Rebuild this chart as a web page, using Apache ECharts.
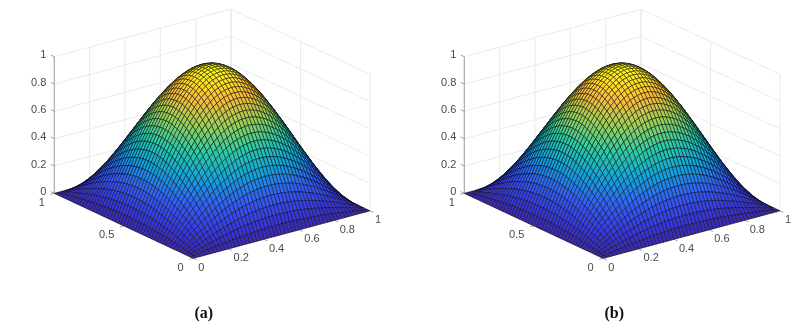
<!DOCTYPE html>
<html>
<head>
<meta charset="utf-8">
<style>html,body{margin:0;padding:0;background:#fff}#main{width:811px;height:332px}</style>
<script src="https://cdn.jsdelivr.net/npm/echarts@6/dist/echarts.min.js"></script>
</head>
<body>
<div id="main"></div>
<script>
// tick labels
var xTicks = [0, 0.2, 0.4, 0.6, 0.8, 1];
var yTicks = [0, 0.5, 1];
var zTicks = [0, 0.2, 0.4, 0.6, 0.8, 1];
var captions = ['(a)', '(b)'];

// surface height, quarter x,y in [0,0.5], 50 cells per side.
// both panels look the same, the other three quarters mirror this one
var heights = [
[0,0,0,0,0,0,0,0,0,0,0,0,0,0,0,0,0,0,0,0,0,0,0,0,0,0],
[0,.004,.008,.012,.016,.019,.023,.027,.030,.034,.037,.040,.043,.046,.048,.051,.053,.055,.057,.058,.060,.061,.062,.062,.063,.063],
[0,.008,.016,.023,.031,.039,.046,.053,.060,.067,.074,.080,.086,.091,.097,.101,.106,.110,.113,.117,.119,.121,.123,.124,.125,.125],
[0,.012,.023,.035,.047,.058,.069,.080,.090,.100,.110,.119,.128,.137,.144,.152,.158,.164,.170,.174,.178,.182,.184,.186,.187,.187],
[0,.016,.031,.047,.062,.077,.092,.106,.120,.133,.146,.159,.170,.181,.192,.201,.210,.218,.225,.231,.237,.241,.244,.247,.248,.249],
[0,.019,.039,.058,.077,.095,.114,.132,.149,.166,.182,.197,.212,.225,.238,.250,.261,.271,.280,.287,.294,.299,.304,.307,.308,.309],
[0,.023,.046,.069,.092,.114,.135,.157,.177,.197,.216,.235,.252,.268,.284,.298,.311,.323,.333,.342,.350,.357,.362,.365,.367,.368],
[0,.027,.053,.080,.106,.132,.157,.181,.205,.228,.250,.271,.291,.310,.328,.344,.360,.373,.385,.396,.405,.412,.418,.422,.425,.426],
[0,.030,.060,.090,.120,.149,.177,.205,.232,.258,.283,.307,.330,.351,.371,.390,.407,.422,.436,.448,.458,.467,.473,.478,.481,.482],
[0,.034,.067,.100,.133,.166,.197,.228,.258,.287,.315,.342,.367,.391,.413,.433,.452,.470,.485,.498,.510,.519,.526,.532,.535,.536],
[0,.037,.074,.110,.146,.182,.216,.250,.283,.315,.346,.375,.402,.429,.453,.476,.496,.515,.532,.547,.559,.569,.577,.583,.587,.588],
[0,.040,.080,.119,.159,.197,.235,.271,.307,.342,.375,.406,.436,.465,.491,.516,.538,.559,.577,.593,.606,.617,.626,.632,.636,.637],
[0,.043,.086,.128,.170,.212,.252,.291,.330,.367,.402,.436,.469,.499,.527,.554,.578,.600,.619,.636,.651,.663,.672,.679,.683,.685],
[0,.046,.091,.137,.181,.225,.268,.310,.351,.391,.429,.465,.499,.531,.562,.590,.615,.639,.660,.678,.693,.706,.716,.723,.728,.729],
[0,.048,.097,.144,.192,.238,.284,.328,.371,.413,.453,.491,.527,.562,.594,.623,.651,.675,.697,.716,.733,.746,.757,.764,.769,.771],
[0,.051,.101,.152,.201,.250,.298,.344,.390,.433,.476,.516,.554,.590,.623,.654,.683,.709,.732,.752,.769,.784,.795,.803,.807,.809],
[0,.053,.106,.158,.210,.261,.311,.360,.407,.452,.496,.538,.578,.615,.651,.683,.713,.740,.764,.785,.803,.818,.829,.838,.843,.844],
[0,.055,.110,.164,.218,.271,.323,.373,.422,.470,.515,.559,.600,.639,.675,.709,.740,.768,.793,.815,.833,.849,.861,.869,.875,.876],
[0,.057,.113,.170,.225,.280,.333,.385,.436,.485,.532,.577,.619,.660,.697,.732,.764,.793,.819,.841,.861,.876,.889,.898,.903,.905],
[0,.058,.117,.174,.231,.287,.342,.396,.448,.498,.547,.593,.636,.678,.716,.752,.785,.815,.841,.865,.884,.901,.913,.922,.928,.930],
[0,.060,.119,.178,.237,.294,.350,.405,.458,.510,.559,.606,.651,.693,.733,.769,.803,.833,.861,.884,.905,.921,.934,.944,.949,.951],
[0,.061,.121,.182,.241,.299,.357,.412,.467,.519,.569,.617,.663,.706,.746,.784,.818,.849,.876,.901,.921,.938,.951,.961,.967,.969],
[0,.062,.123,.184,.244,.304,.362,.418,.473,.526,.577,.626,.672,.716,.757,.795,.829,.861,.889,.913,.934,.951,.965,.975,.980,.982],
[0,.062,.124,.186,.247,.307,.365,.422,.478,.532,.583,.632,.679,.723,.764,.803,.838,.869,.898,.922,.944,.961,.975,.984,.990,.992],
[0,.063,.125,.187,.248,.308,.367,.425,.481,.535,.587,.636,.683,.728,.769,.807,.843,.875,.903,.928,.949,.967,.980,.990,.996,.998],
[0,.063,.125,.187,.249,.309,.368,.426,.482,.536,.588,.637,.685,.729,.771,.809,.844,.876,.905,.930,.951,.969,.982,.992,.998,1]
];

var colorStops = [
	[0, [60, 40, 170]],
	[0.1, [55, 55, 225]],
	[0.25, [50, 95, 250]],
	[0.4, [15, 165, 220]],
	[0.55, [40, 205, 165]],
	[0.7, [150, 210, 85]],
	[0.85, [255, 185, 55]],
	[1, [255, 255, 15]]
];

var cells = 50;
var panelLeft = [54.3, 464.3];
var captionLeft = [194.5, 604.5];

function height(i, j){
	return heights[i > 25 ? 50 - i : i][j > 25 ? 50 - j : j];
}

// oblique view, plane coordinates are 0..1 across the grid box
function project(x, y, z){
	return [0.44 + 0.56 * x - 0.44 * y, 0.191 * x + 0.261 * y + 0.5486 * z];
}

function colorOf(v){
	for(var k = 1; k < colorStops.length; k++){
		if(v <= colorStops[k][0]){
			var a = colorStops[k - 1], b = colorStops[k];
			var t = (v - a[0]) / (b[0] - a[0]);
			return 'rgb(' + [0, 1, 2].map(function(c){
				return Math.round(a[1][c] + (b[1][c] - a[1][c]) * t);
			}).join(',') + ')';
		}
	}
	return 'rgb(255,255,15)';
}

// back walls and floor
var gridLines = [];
zTicks.forEach(function(z){
	gridLines.push([0, 1, z, 1, 1, z]);
	gridLines.push([1, 1, z, 1, 0, z]);
});
xTicks.forEach(function(x){
	gridLines.push([x, 1, 0, x, 1, 1]);
	gridLines.push([x, 0, 0, x, 1, 0]);
});
yTicks.forEach(function(y){
	gridLines.push([1, y, 0, 1, y, 1]);
	gridLines.push([0, y, 0, 1, y, 0]);
});

var axisLines = [[0, 1, 0, 0, 1, 1], [0, 0, 0, 1, 0, 0], [0, 0, 0, 0, 1, 0]];
zTicks.forEach(function(z){ axisLines.push([0, 1, z, 0, 1.026, z]); });
xTicks.forEach(function(x){ axisLines.push([x, 0, 0, x, -0.026, 0]); });
yTicks.forEach(function(y){ axisLines.push([0, y, 0, -0.022, y, 0]); });

var tickLabels = [];
zTicks.forEach(function(z){ tickLabels.push([0, 1, z, String(z), 'right', -8, -1.5]); });
xTicks.forEach(function(x){ tickLabels.push([x, 0, 0, String(x), 'left', 5, 9.5]); });
yTicks.forEach(function(y){ tickLabels.push([0, y, 0, String(y), 'right', -9.5, 9.5]); });

// painted far corner first
var surfaceCells = [];
for(var i = cells - 1; i >= 0; i--){
	for(var j = cells - 1; j >= 0; j--){
		surfaceCells.push([i, j]);
	}
}

function renderLine(color, width){
	return function(params, api){
		var p0 = api.coord(project(api.value(0), api.value(1), api.value(2)));
		var p1 = api.coord(project(api.value(3), api.value(4), api.value(5)));
		return {
			type: 'line',
			shape: {x1: p0[0], y1: p0[1], x2: p1[0], y2: p1[1]},
			style: {stroke: color, lineWidth: width}
		};
	};
}

function renderCell(params, api){
	var i = api.value(0), j = api.value(1);
	var corners = [[i, j], [i + 1, j], [i + 1, j + 1], [i, j + 1]];
	var sum = 0;
	var points = corners.map(function(c){
		var z = height(c[0], c[1]);
		sum += z;
		return api.coord(project(c[0] / cells, c[1] / cells, z));
	});
	return {
		type: 'polygon',
		z2: params.dataIndex,
		shape: {points: points},
		style: {fill: colorOf(sum / 4), stroke: '#0a0a12', lineWidth: 0.5}
	};
}

function renderLabel(params, api){
	var p = api.coord(project(api.value(0), api.value(1), api.value(2)));
	var item = tickLabels[params.dataIndex];
	return {
		type: 'text',
		style: {
			text: item[3],
			x: p[0] + item[5],
			y: p[1] + item[6],
			fill: '#4a4a4a',
			fontSize: 11,
			fontFamily: 'Liberation Sans',
			align: item[4],
			textAlign: item[4],
			verticalAlign: 'middle',
			textVerticalAlign: 'middle'
		}
	};
}

var grids = [], xAxes = [], yAxes = [], series = [], titles = [];
panelLeft.forEach(function(left, n){
	grids.push({left: left, top: 9.3, width: 315.7, height: 249});
	xAxes.push({type: 'value', gridIndex: n, min: 0, max: 1, show: false});
	yAxes.push({type: 'value', gridIndex: n, min: 0, max: 1, show: false});
	titles.push({
		text: captions[n], left: captionLeft[n], top: 306, padding: 0,
		textStyle: {fontFamily: 'Liberation Serif', fontWeight: 'bold', fontSize: 16, color: '#111'}
	});
	var common = {type: 'custom', xAxisIndex: n, yAxisIndex: n, silent: true, animation: false, clip: false, progressive: 0};
	series.push(Object.assign({}, common, {z: 1, data: gridLines, renderItem: renderLine('#e6e6e6', 0.8)}));
	series.push(Object.assign({}, common, {z: 2, data: axisLines, renderItem: renderLine('#8a8a8a', 0.8)}));
	series.push(Object.assign({}, common, {z: 3, data: surfaceCells, renderItem: renderCell}));
	series.push(Object.assign({}, common, {
		z: 4,
		data: tickLabels.map(function(t){ return t.slice(0, 3); }),
		renderItem: renderLabel
	}));
});

var chart = echarts.init(document.getElementById('main'), null, {renderer: 'canvas'});
chart.setOption({
	animation: false,
	backgroundColor: '#fff',
	title: titles,
	grid: grids,
	xAxis: xAxes,
	yAxis: yAxes,
	series: series
});
</script>
</body>
</html>
